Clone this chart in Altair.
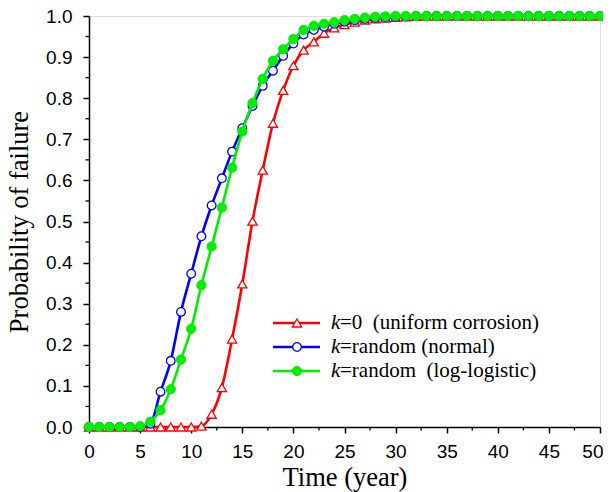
import altair as alt
import pandas as pd

years = list(range(0, 51))

uniform = [0.0, 0.0, 0.0, 0.0, 0.0, 0.0, 0.0, 0.0, 0.0, 0.0,
           0.0, 0.002, 0.031, 0.096, 0.214, 0.348, 0.501, 0.625, 0.739, 0.819,
           0.879, 0.917, 0.937, 0.958, 0.971, 0.979, 0.985, 0.990, 0.993, 0.995,
           0.997, 0.998, 0.999, 1.0, 1.0, 1.0, 1.0, 1.0, 1.0, 1.0,
           1.0, 1.0, 1.0, 1.0, 1.0, 1.0, 1.0, 1.0, 1.0, 1.0, 1.0]

normal = [0.0, 0.0, 0.0, 0.0, 0.0, 0.0, 0.008, 0.086, 0.161, 0.280,
          0.373, 0.464, 0.539, 0.605, 0.670, 0.727, 0.781, 0.830, 0.867, 0.903,
          0.933, 0.955, 0.966, 0.974, 0.981, 0.986, 0.990, 0.993, 0.995, 0.997,
          0.998, 0.999, 1.0, 1.0, 1.0, 1.0, 1.0, 1.0, 1.0, 1.0,
          1.0, 1.0, 1.0, 1.0, 1.0, 1.0, 1.0, 1.0, 1.0, 1.0, 1.0]

loglogistic = [0.0, 0.0, 0.0, 0.0, 0.0, 0.002, 0.013, 0.041, 0.092, 0.164,
               0.239, 0.345, 0.439, 0.534, 0.631, 0.719, 0.788, 0.847, 0.891, 0.919,
               0.944, 0.966, 0.976, 0.981, 0.985, 0.990, 0.993, 0.996, 0.998, 0.999,
               1.0, 1.0, 1.0, 1.0, 1.0, 1.0, 1.0, 1.0, 1.0, 1.0,
               1.0, 1.0, 1.0, 1.0, 1.0, 1.0, 1.0, 1.0, 1.0, 1.0, 1.0]

series_names = ["uniform", "normal", "loglogistic"]
series_colors = ["#ff0000", "#0000ff", "#00ee00"]
legend_rest = ["=0\u00a0\u00a0(uniform corrosion)", "=random (normal)", "=random\u00a0\u00a0(log-logistic)"]

x_ticks = [0, 5, 10, 15, 20, 25, 30, 35, 40, 45, 50]
x_minor = [2.5, 7.5, 12.5, 17.5, 22.5, 27.5, 32.5, 37.5, 42.5, 47.5]
y_ticks = [0.0, 0.1, 0.2, 0.3, 0.4, 0.5, 0.6, 0.7, 0.8, 0.9, 1.0]
y_minor = [0.05, 0.15, 0.25, 0.35, 0.45, 0.55, 0.65, 0.75, 0.85, 0.95]

rows = []
for name, vals in zip(series_names, [uniform, normal, loglogistic]):
    for yr, v in zip(years, vals):
        rows.append({"year": yr, "value": v, "series": name})
df = pd.DataFrame(rows)

xscale = alt.Scale(domain=[0, 50], nice=False, zero=False)
yscale = alt.Scale(domain=[0, 1], nice=False)

LABEL_FONT = "Liberation Sans"
TITLE_FONT = "Liberation Serif"

main_x = alt.Axis(values=x_ticks, format="d", title="Time (year)", orient="bottom",
                  grid=False, domainColor="black", domainWidth=1.5, tickColor="black",
                  tickWidth=1.5, tickSize=6, labelFont=LABEL_FONT, labelFontSize=19,
                  labelColor="black", labelPadding=9, labelFlush=False,
                  labelAlign={"condition": {"test": "datum.value == 50", "value": "right"},
                              "value": "center"},
                  labelOffset={"condition": {"test": "datum.value == 50", "value": 3},
                               "value": 0},
                  titleFont=TITLE_FONT, titleFontSize=26.5, titleFontWeight="normal",
                  titleColor="black", titlePadding=3)
main_y = alt.Axis(values=y_ticks, format=".1f", title="Probability of failure", orient="left",
                  grid=False, domainColor="black", domainWidth=1.5, tickColor="black",
                  tickWidth=1.5, tickSize=6, labelFont=LABEL_FONT, labelFontSize=19,
                  labelColor="black", labelPadding=11, labelFlush=False,
                  titleFont=TITLE_FONT, titleFontSize=26.5, titleFontWeight="normal",
                  titleColor="black", titlePadding=12)

X = lambda f: alt.X(f, scale=xscale, axis=main_x)
Y = lambda f: alt.Y(f, scale=yscale, axis=main_y)

base = alt.Chart(df)

# minor ticks (outward, short)
minor_x_layer = alt.Chart(pd.DataFrame({"year": x_minor})).mark_rule(
    color="black", strokeWidth=1.3).encode(
    x=X("year:Q"), y=alt.value(411), y2=alt.value(414.5))
minor_y_layer = alt.Chart(pd.DataFrame({"value": y_minor})).mark_rule(
    color="black", strokeWidth=1.3).encode(
    y=Y("value:Q"), x=alt.value(0), x2=alt.value(-3.5))

layers = [minor_x_layer, minor_y_layer]
point_styles = [
    dict(shape="triangle-up", filled=True, fill="white", stroke="#ff0000", strokeWidth=1.3, size=85),
    dict(shape="circle", filled=True, fill="white", stroke="#0000ff", strokeWidth=1.3, size=75),
    dict(shape="circle", filled=True, fill="#00ee00", stroke="#00ee00", strokeWidth=1, size=85),
]
for name, col, ps in zip(series_names, series_colors, point_styles):
    sub = base.transform_filter(alt.datum.series == name)
    line = sub.mark_line(color=col, strokeWidth=2.6, interpolate="monotone").encode(
        x=X("year:Q"), y=Y("value:Q"))
    pts = sub.mark_point(opacity=1, **ps).encode(x=X("year:Q"), y=Y("value:Q"))
    layers += [line, pts]

# manual legend
one = pd.DataFrame({"a": [0]})
legend_y = [307, 331, 355]
for i, (col, ps, rest) in enumerate(zip(series_colors, point_styles, legend_rest)):
    ly = legend_y[i]
    layers.append(alt.Chart(one).mark_rule(color=col, strokeWidth=2.6).encode(
        x=alt.value(184), x2=alt.value(231), y=alt.value(ly)))
    layers.append(alt.Chart(one).mark_point(opacity=1, **ps).encode(
        x=alt.value(208), y=alt.value(ly)))
    layers.append(alt.Chart(one).mark_text(text="k", font=TITLE_FONT, fontSize=21,
                                            fontStyle="italic", align="left",
                                            baseline="middle", color="black").encode(
        x=alt.value(242), y=alt.value(ly)))
    layers.append(alt.Chart(one).mark_text(text=rest, font=TITLE_FONT, fontSize=21,
                                            align="left", baseline="middle",
                                            color="black").encode(
        x=alt.value(251), y=alt.value(ly)))

chart = alt.layer(*layers).properties(
    width=511, height=411,
    padding={"left": 81, "top": 8, "right": 3, "bottom": 66},
    autosize=alt.AutoSizeParams(type="none"),
).configure_view(strokeWidth=0, stroke="transparent").configure(background="white")

chart.save("out.html", embed_options={"renderer": "svg", "actions": False})
